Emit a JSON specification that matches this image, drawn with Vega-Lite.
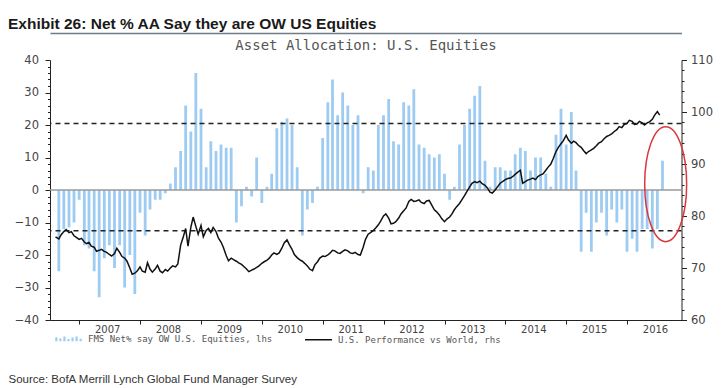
{
  "$schema": "https://vega.github.io/schema/vega-lite/v6.json",
  "width": 631.5,
  "height": 260,
  "autosize": {"type": "none"},
  "padding": {"left": 50, "top": 60, "right": 44.5, "bottom": 68},
  "background": "white",
  "config": {"view": {"stroke": null}, "font": "DejaVu Sans"},
  "title": {
    "text": "Exhibit 26: Net % AA Say they are OW US Equities",
    "anchor": "start", "frame": "group", "orient": "top",
    "dx": -42, "dy": 15, "offset": 4, "baseline": "alphabetic",
    "font": "Liberation Sans, Arial, sans-serif",
    "fontSize": 15.5, "fontWeight": "bold", "color": "#1a1a1a"
  },
  "datasets": {
    "survey": [
      {"date":"2006-09-01","pct":-25},{"date":"2006-10-01","pct":-12},{"date":"2006-11-01","pct":-11.5},{"date":"2006-12-01","pct":-10},
      {"date":"2007-01-01","pct":-3},{"date":"2007-02-01","pct":-17},{"date":"2007-03-01","pct":-18},{"date":"2007-04-01","pct":-25},
      {"date":"2007-05-01","pct":-33},{"date":"2007-06-01","pct":-21},{"date":"2007-07-01","pct":-17},{"date":"2007-08-01","pct":-24},
      {"date":"2007-09-01","pct":-17},{"date":"2007-10-01","pct":-30},{"date":"2007-11-01","pct":-20},{"date":"2007-12-01","pct":-32},
      {"date":"2008-01-01","pct":-7},{"date":"2008-02-01","pct":-14},{"date":"2008-03-01","pct":-6},{"date":"2008-04-01","pct":-3},
      {"date":"2008-05-01","pct":-3},{"date":"2008-06-01","pct":-1},{"date":"2008-07-01","pct":2},{"date":"2008-08-01","pct":7},
      {"date":"2008-09-01","pct":12},{"date":"2008-10-01","pct":26},{"date":"2008-11-01","pct":18},{"date":"2008-12-01","pct":36},
      {"date":"2009-01-01","pct":25},{"date":"2009-02-01","pct":7},{"date":"2009-03-01","pct":15},{"date":"2009-04-01","pct":12},
      {"date":"2009-05-01","pct":14},{"date":"2009-06-01","pct":13},{"date":"2009-07-01","pct":13},{"date":"2009-08-01","pct":-10},
      {"date":"2009-09-01","pct":-5},{"date":"2009-10-01","pct":1},{"date":"2009-11-01","pct":-2},{"date":"2009-12-01","pct":10},
      {"date":"2010-01-01","pct":-4},{"date":"2010-02-01","pct":1},{"date":"2010-03-01","pct":5},{"date":"2010-04-01","pct":19},
      {"date":"2010-05-01","pct":21},{"date":"2010-06-01","pct":22},{"date":"2010-07-01","pct":20},{"date":"2010-08-01","pct":7},
      {"date":"2010-09-01","pct":-14},{"date":"2010-10-01","pct":-6},{"date":"2010-11-01","pct":-4},{"date":"2010-12-01","pct":1},
      {"date":"2011-01-01","pct":16},{"date":"2011-02-01","pct":27},{"date":"2011-03-01","pct":34},{"date":"2011-04-01","pct":23},
      {"date":"2011-05-01","pct":30},{"date":"2011-06-01","pct":26},{"date":"2011-07-01","pct":20},{"date":"2011-08-01","pct":23},
      {"date":"2011-09-01","pct":-1},{"date":"2011-10-01","pct":7},{"date":"2011-11-01","pct":6},{"date":"2011-12-01","pct":20},
      {"date":"2012-01-01","pct":23},{"date":"2012-02-01","pct":28},{"date":"2012-03-01","pct":15},{"date":"2012-04-01","pct":14},
      {"date":"2012-05-01","pct":27},{"date":"2012-06-01","pct":26},{"date":"2012-07-01","pct":31},{"date":"2012-08-01","pct":14},
      {"date":"2012-09-01","pct":13},{"date":"2012-10-01","pct":11},{"date":"2012-11-01","pct":10},{"date":"2012-12-01","pct":11},
      {"date":"2013-01-01","pct":5},{"date":"2013-02-01","pct":-3},{"date":"2013-03-01","pct":1},{"date":"2013-04-01","pct":14},
      {"date":"2013-05-01","pct":20},{"date":"2013-06-01","pct":25},{"date":"2013-07-01","pct":29},{"date":"2013-08-01","pct":32},
      {"date":"2013-09-01","pct":9},{"date":"2013-10-01","pct":1},{"date":"2013-11-01","pct":7},{"date":"2013-12-01","pct":7},
      {"date":"2014-01-01","pct":6},{"date":"2014-02-01","pct":6},{"date":"2014-03-01","pct":11},{"date":"2014-04-01","pct":13},
      {"date":"2014-05-01","pct":12},{"date":"2014-06-01","pct":6},{"date":"2014-07-01","pct":10},{"date":"2014-08-01","pct":10},
      {"date":"2014-09-01","pct":5},{"date":"2014-10-01","pct":1},{"date":"2014-11-01","pct":17},{"date":"2014-12-01","pct":25},
      {"date":"2015-01-01","pct":14},{"date":"2015-02-01","pct":24},{"date":"2015-03-01","pct":6},{"date":"2015-04-01","pct":-19},
      {"date":"2015-05-01","pct":-7},{"date":"2015-06-01","pct":-19},{"date":"2015-07-01","pct":-10},{"date":"2015-08-01","pct":-7},
      {"date":"2015-09-01","pct":-14},{"date":"2015-10-01","pct":-6},{"date":"2015-11-01","pct":-10},{"date":"2015-12-01","pct":-6},
      {"date":"2016-01-01","pct":-19},{"date":"2016-02-01","pct":-15},{"date":"2016-03-01","pct":-19},{"date":"2016-04-01","pct":-12},
      {"date":"2016-05-01","pct":-12},{"date":"2016-06-01","pct":-18},{"date":"2016-07-01","pct":-12},{"date":"2016-08-01","pct":9}
    ],
    "perf": [
      {"date":"2006-08-12","perf":76.0},
      {"date":"2006-09-01","perf":75.6},{"date":"2006-09-15","perf":76.4},
      {"date":"2006-10-01","perf":77.0},{"date":"2006-10-15","perf":77.4},
      {"date":"2006-11-01","perf":76.8},{"date":"2006-11-15","perf":77.0},
      {"date":"2006-12-01","perf":76.2},{"date":"2006-12-15","perf":75.9},
      {"date":"2007-01-01","perf":75.5},{"date":"2007-01-15","perf":75.7},
      {"date":"2007-02-01","perf":75.0},{"date":"2007-02-15","perf":74.7},
      {"date":"2007-03-01","perf":74.9},{"date":"2007-03-15","perf":74.2},
      {"date":"2007-04-01","perf":74.0},{"date":"2007-04-15","perf":73.2},
      {"date":"2007-05-01","perf":73.4},{"date":"2007-05-15","perf":73.6},
      {"date":"2007-06-01","perf":73.2},{"date":"2007-06-15","perf":73.0},
      {"date":"2007-07-01","perf":72.6},{"date":"2007-07-15","perf":72.3},
      {"date":"2007-08-01","perf":72.8},{"date":"2007-08-15","perf":73.8},
      {"date":"2007-09-01","perf":73.0},{"date":"2007-09-15","perf":72.2},
      {"date":"2007-10-01","perf":71.9},{"date":"2007-10-15","perf":71.3},
      {"date":"2007-11-01","perf":70.0},{"date":"2007-11-15","perf":68.8},
      {"date":"2007-12-01","perf":69.0},{"date":"2007-12-15","perf":69.4},
      {"date":"2008-01-01","perf":70.2},{"date":"2008-01-15","perf":69.4},
      {"date":"2008-02-01","perf":69.2},{"date":"2008-02-15","perf":71.0},
      {"date":"2008-03-01","perf":69.8},{"date":"2008-03-15","perf":69.2},
      {"date":"2008-04-01","perf":69.8},{"date":"2008-04-15","perf":70.5},
      {"date":"2008-05-01","perf":69.4},{"date":"2008-05-15","perf":69.1},
      {"date":"2008-06-01","perf":69.7},{"date":"2008-06-15","perf":69.4},
      {"date":"2008-07-01","perf":70.0},{"date":"2008-07-15","perf":70.4},
      {"date":"2008-08-01","perf":70.2},{"date":"2008-08-15","perf":70.8},
      {"date":"2008-09-01","perf":74.4},{"date":"2008-09-15","perf":75.8},
      {"date":"2008-10-01","perf":77.6},{"date":"2008-10-15","perf":74.2},
      {"date":"2008-11-01","perf":77.8},{"date":"2008-11-15","perf":79.8},
      {"date":"2008-12-01","perf":78.0},{"date":"2008-12-15","perf":76.5},
      {"date":"2009-01-01","perf":78.2},{"date":"2009-01-15","perf":76.0},
      {"date":"2009-02-01","perf":77.2},{"date":"2009-02-15","perf":77.6},
      {"date":"2009-03-01","perf":76.8},{"date":"2009-03-15","perf":77.8},
      {"date":"2009-04-01","perf":77.0},{"date":"2009-04-15","perf":75.8},
      {"date":"2009-05-01","perf":75.0},{"date":"2009-05-15","perf":74.0},
      {"date":"2009-06-01","perf":72.4},{"date":"2009-06-15","perf":71.4},
      {"date":"2009-07-01","perf":71.9},{"date":"2009-07-15","perf":71.6},
      {"date":"2009-08-01","perf":71.3},{"date":"2009-08-15","perf":71.0},
      {"date":"2009-09-01","perf":70.7},{"date":"2009-09-15","perf":70.3},
      {"date":"2009-10-01","perf":69.8},{"date":"2009-10-15","perf":69.3},
      {"date":"2009-11-01","perf":69.6},{"date":"2009-11-15","perf":69.8},
      {"date":"2009-12-01","perf":70.1},{"date":"2009-12-15","perf":70.4},
      {"date":"2010-01-01","perf":70.9},{"date":"2010-01-15","perf":71.2},
      {"date":"2010-02-01","perf":71.5},{"date":"2010-02-15","perf":71.9},
      {"date":"2010-03-01","perf":72.5},{"date":"2010-03-15","perf":72.9},
      {"date":"2010-04-01","perf":72.6},{"date":"2010-04-15","perf":72.9},
      {"date":"2010-05-01","perf":73.8},{"date":"2010-05-15","perf":74.8},
      {"date":"2010-06-01","perf":75.4},{"date":"2010-06-15","perf":74.5},
      {"date":"2010-07-01","perf":73.6},{"date":"2010-07-15","perf":72.6},
      {"date":"2010-08-01","perf":72.0},{"date":"2010-08-15","perf":71.6},
      {"date":"2010-09-01","perf":71.3},{"date":"2010-09-15","perf":70.9},
      {"date":"2010-10-01","perf":70.4},{"date":"2010-10-15","perf":69.8},
      {"date":"2010-11-01","perf":69.5},{"date":"2010-11-15","perf":70.6},
      {"date":"2010-12-01","perf":71.2},{"date":"2010-12-15","perf":71.9},
      {"date":"2011-01-01","perf":72.3},{"date":"2011-01-15","perf":72.2},
      {"date":"2011-02-01","perf":72.5},{"date":"2011-02-15","perf":72.9},
      {"date":"2011-03-01","perf":73.4},{"date":"2011-03-15","perf":73.3},
      {"date":"2011-04-01","perf":72.9},{"date":"2011-04-15","perf":72.8},
      {"date":"2011-05-01","perf":73.2},{"date":"2011-05-15","perf":73.5},
      {"date":"2011-06-01","perf":73.3},{"date":"2011-06-15","perf":72.9},
      {"date":"2011-07-01","perf":72.8},{"date":"2011-07-15","perf":73.0},
      {"date":"2011-08-01","perf":72.6},{"date":"2011-08-15","perf":72.5},
      {"date":"2011-09-01","perf":74.0},{"date":"2011-09-15","perf":75.5},
      {"date":"2011-10-01","perf":76.5},{"date":"2011-10-15","perf":76.8},
      {"date":"2011-11-01","perf":77.2},{"date":"2011-11-15","perf":77.7},
      {"date":"2011-12-01","perf":78.3},{"date":"2011-12-15","perf":79.0},
      {"date":"2012-01-01","perf":80.0},{"date":"2012-01-15","perf":80.4},
      {"date":"2012-02-01","perf":79.6},{"date":"2012-02-15","perf":78.5},
      {"date":"2012-03-01","perf":78.6},{"date":"2012-03-15","perf":78.9},
      {"date":"2012-04-01","perf":79.6},{"date":"2012-04-15","perf":80.4},
      {"date":"2012-05-01","perf":81.0},{"date":"2012-05-15","perf":81.5},
      {"date":"2012-06-01","perf":82.8},{"date":"2012-06-15","perf":83.2},
      {"date":"2012-07-01","perf":82.8},{"date":"2012-07-15","perf":82.9},
      {"date":"2012-08-01","perf":83.1},{"date":"2012-08-15","perf":82.6},
      {"date":"2012-09-01","perf":82.4},{"date":"2012-09-15","perf":82.9},
      {"date":"2012-10-01","perf":83.0},{"date":"2012-10-15","perf":82.2},
      {"date":"2012-11-01","perf":81.2},{"date":"2012-11-15","perf":80.8},
      {"date":"2012-12-01","perf":80.2},{"date":"2012-12-15","perf":79.5},
      {"date":"2013-01-01","perf":78.9},{"date":"2013-01-15","perf":79.4},
      {"date":"2013-02-01","perf":79.8},{"date":"2013-02-15","perf":80.4},
      {"date":"2013-03-01","perf":81.2},{"date":"2013-03-15","perf":81.8},
      {"date":"2013-04-01","perf":82.4},{"date":"2013-04-15","perf":83.1},
      {"date":"2013-05-01","perf":83.9},{"date":"2013-05-15","perf":84.7},
      {"date":"2013-06-01","perf":85.6},{"date":"2013-06-15","perf":86.3},
      {"date":"2013-07-01","perf":86.6},{"date":"2013-07-15","perf":86.4},
      {"date":"2013-08-01","perf":86.7},{"date":"2013-08-15","perf":86.2},
      {"date":"2013-09-01","perf":85.9},{"date":"2013-09-15","perf":85.4},
      {"date":"2013-10-01","perf":84.6},{"date":"2013-10-15","perf":84.4},
      {"date":"2013-11-01","perf":85.0},{"date":"2013-11-15","perf":85.6},
      {"date":"2013-12-01","perf":86.3},{"date":"2013-12-15","perf":86.6},
      {"date":"2014-01-01","perf":87.0},{"date":"2014-01-15","perf":87.2},
      {"date":"2014-02-01","perf":87.3},{"date":"2014-02-15","perf":87.6},
      {"date":"2014-03-01","perf":88.0},{"date":"2014-03-15","perf":88.4},
      {"date":"2014-04-01","perf":88.8},{"date":"2014-04-15","perf":86.3},
      {"date":"2014-05-01","perf":86.6},{"date":"2014-05-15","perf":86.9},
      {"date":"2014-06-01","perf":87.1},{"date":"2014-06-15","perf":87.3},
      {"date":"2014-07-01","perf":87.0},{"date":"2014-07-15","perf":87.6},
      {"date":"2014-08-01","perf":87.9},{"date":"2014-08-15","perf":88.1},
      {"date":"2014-09-01","perf":88.8},{"date":"2014-09-15","perf":89.4},
      {"date":"2014-10-01","perf":90.0},{"date":"2014-10-15","perf":91.0},
      {"date":"2014-11-01","perf":92.4},{"date":"2014-11-15","perf":93.2},
      {"date":"2014-12-01","perf":93.9},{"date":"2014-12-15","perf":94.5},
      {"date":"2015-01-01","perf":95.5},{"date":"2015-01-15","perf":94.6},
      {"date":"2015-02-01","perf":94.0},{"date":"2015-02-15","perf":94.4},
      {"date":"2015-03-01","perf":94.1},{"date":"2015-03-15","perf":93.6},
      {"date":"2015-04-01","perf":93.2},{"date":"2015-04-15","perf":92.6},
      {"date":"2015-05-01","perf":92.0},{"date":"2015-05-15","perf":92.4},
      {"date":"2015-06-01","perf":92.7},{"date":"2015-06-15","perf":93.0},
      {"date":"2015-07-01","perf":93.5},{"date":"2015-07-15","perf":94.0},
      {"date":"2015-08-01","perf":94.3},{"date":"2015-08-15","perf":94.8},
      {"date":"2015-09-01","perf":95.3},{"date":"2015-09-15","perf":95.5},
      {"date":"2015-10-01","perf":95.8},{"date":"2015-10-15","perf":96.2},
      {"date":"2015-11-01","perf":96.6},{"date":"2015-11-15","perf":97.2},
      {"date":"2015-12-01","perf":97.0},{"date":"2015-12-15","perf":97.6},
      {"date":"2016-01-01","perf":97.8},{"date":"2016-01-15","perf":98.4},
      {"date":"2016-02-01","perf":98.2},{"date":"2016-02-15","perf":97.6},
      {"date":"2016-03-01","perf":97.7},{"date":"2016-03-15","perf":98.2},
      {"date":"2016-04-01","perf":97.9},{"date":"2016-04-15","perf":97.5},
      {"date":"2016-05-01","perf":97.9},{"date":"2016-05-15","perf":98.1},
      {"date":"2016-06-01","perf":98.6},{"date":"2016-06-15","perf":99.4},
      {"date":"2016-07-01","perf":100.1},{"date":"2016-07-15","perf":99.4}
    ],
    "levels": [{"level": 20.5}, {"level": -12.5}],
    "zero": [{"level": 0}],
    "highlight": [{"date": "2016-08-20", "pct": 1.8}]
  },
  "layer": [
    {
      "data": {"name": "survey"},
      "mark": {"type": "bar", "size": 2.8},
      "encoding": {
        "x": {
          "field": "date", "type": "temporal",
          "scale": {"domain": [{"year": 2006, "month": 8, "date": 9}, {"year": 2016, "month": 10, "date": 24}], "nice": false},
          "axis": {
            "orient": "bottom",
            "values": [{"year":2007,"month":1,"date":1},{"year":2008,"month":1,"date":1},{"year":2009,"month":1,"date":1},{"year":2010,"month":1,"date":1},{"year":2011,"month":1,"date":1},{"year":2012,"month":1,"date":1},{"year":2013,"month":1,"date":1},{"year":2014,"month":1,"date":1},{"year":2015,"month":1,"date":1},{"year":2016,"month":1,"date":1}],
            "format": "%Y", "labelOffset": 28, "tickSize": 4, "tickColor": "#222", "domainColor": "#222",
            "labelFont": "DejaVu Sans", "labelFontSize": 10, "labelColor": "#444", "labelPadding": 0,
            "labelFlush": false, "labelOverlap": false, "labelBound": false, "grid": false,
            "title": "Source: BofA Merrill Lynch Global Fund Manager Survey",
            "titleX": -42, "titleY": 62, "titleAlign": "left", "titleAnchor": "start", "titleBaseline": "alphabetic",
            "titleFont": "Liberation Sans", "titleFontSize": 11.5, "titleFontWeight": "normal", "titleColor": "#333"
          }
        },
        "y": {
          "field": "pct", "type": "quantitative",
          "scale": {"domain": [-40, 40], "nice": false},
          "axis": {
            "orient": "left",
            "values": [-40,-38,-36,-34,-32,-30,-28,-26,-24,-22,-20,-18,-16,-14,-12,-10,-8,-6,-4,-2,0,2,4,6,8,10,12,14,16,18,20,22,24,26,28,30,32,34,36,38,40],
            "labelExpr": "datum.value % 10 === 0 ? datum.label : ''",
            "tickSize": {"condition": {"test": "datum.value % 10 === 0", "value": 5}, "value": 2.5},
            "tickColor": "#222", "domainColor": "#222",
            "labelFont": "DejaVu Sans", "labelFontSize": 11.5, "labelColor": "#444", "labelPadding": 6.5,
            "labelOverlap": false, "labelBound": false, "grid": false, "title": null
          }
        },
        "y2": {"datum": 0},
        "color": {
          "datum": "FMS Net% say OW U.S. Equities, lhs", "type": "nominal",
          "scale": {"domain": ["FMS Net% say OW U.S. Equities, lhs", "U.S. Performance vs World, rhs"], "range": ["#9ecbf2", "#111111"]},
          "legend": {
            "title": null, "orient": "none", "legendX": 14, "legendY": 274, "direction": "horizontal",
            "padding": 0, "labelFont": "DejaVu Sans Mono", "labelFontSize": 9, "labelColor": "#555", "labelLimit": 400,
            "labelOffset": 15, "columnPadding": 29, "symbolSize": 729, "symbolType": "stroke",
            "encode": {
              "symbols": {
                "update": {
                  "shape": {"signal": "datum.value === 'FMS Net% say OW U.S. Equities, lhs' ? 'M-0.9,0.18V-0.12M-0.6,0.18V-0.02M-0.3,0.18V-0.18M0,0.18V0.02M0.3,0.18V-0.1M0.6,0.18V-0.18M0.9,0.18V0' : 'M-1,0H1'"},
                  "stroke": {"scale": "color", "field": "value"},
                  "fill": {"value": "transparent"},
                  "strokeWidth": {"signal": "datum.value === 'FMS Net% say OW U.S. Equities, lhs' ? 2.2 : 1.5"},
                  "opacity": {"value": 1}
                }
              }
            }
          }
        }
      }
    },
    {
      "data": {"name": "zero"},
      "mark": {"type": "rule", "color": "#9a9a9a", "strokeWidth": 1.5},
      "encoding": {"y": {"field": "level", "type": "quantitative", "scale": {"domain": [-40, 40], "nice": false}, "axis": null}}
    },
    {
      "data": {"name": "levels"},
      "mark": {"type": "rule", "color": "#222", "strokeWidth": 1.5, "strokeDash": [5, 4]},
      "encoding": {"y": {"field": "level", "type": "quantitative", "scale": {"domain": [-40, 40], "nice": false}, "axis": null}}
    },
    {
      "data": {"name": "highlight"},
      "mark": {
        "type": "point",
        "shape": "M0,-1C0.2016,-1 0.365,-0.5523 0.365,0C0.365,0.5523 0.2016,1 0,1C-0.2016,1 -0.365,0.5523 -0.365,0C-0.365,-0.5523 -0.2016,-1 0,-1Z",
        "size": 13225, "filled": false, "stroke": "#d9363e", "strokeWidth": 1.5, "opacity": 1
      },
      "encoding": {
        "x": {"field": "date", "type": "temporal", "axis": null},
        "y": {"field": "pct", "type": "quantitative", "scale": {"domain": [-40, 40], "nice": false}, "axis": null}
      }
    },
    {
      "data": {"name": "perf"},
      "mark": {"type": "line", "strokeWidth": 1.5, "interpolate": "linear"},
      "encoding": {
        "x": {
          "field": "date", "type": "temporal",
          "scale": {"domain": [{"year": 2006, "month": 8, "date": 9}, {"year": 2016, "month": 10, "date": 24}], "nice": false},
          "axis": {
            "orient": "top", "offset": 27, "domain": true, "domainColor": "#6f7c89", "domainWidth": 1.5,
            "ticks": false, "labels": false, "grid": false,
            "title": "Asset Allocation: U.S. Equities",
            "titleX": 315.5, "titleY": 16, "titleAlign": "center", "titleBaseline": "alphabetic",
            "titleFont": "DejaVu Sans Mono", "titleFontSize": 14, "titleFontWeight": "normal", "titleColor": "#555"
          }
        },
        "y": {
          "field": "perf", "type": "quantitative",
          "scale": {"domain": [60, 110], "nice": false, "zero": false},
          "axis": {
            "orient": "right",
            "values": [60,62,64,66,68,70,72,74,76,78,80,82,84,86,88,90,92,94,96,98,100,102,104,106,108,110],
            "labelExpr": "datum.value % 10 === 0 ? datum.label : ''",
            "tickSize": {"condition": {"test": "datum.value % 10 === 0", "value": 5}, "value": 2.5},
            "tickColor": "#222", "domainColor": "#222",
            "labelFont": "DejaVu Sans", "labelFontSize": 11.5, "labelColor": "#444", "labelPadding": 4,
            "labelOverlap": false, "labelBound": false, "grid": false, "title": null
          }
        },
        "color": {"datum": "U.S. Performance vs World, rhs", "type": "nominal"}
      }
    }
  ],
  "resolve": {"scale": {"y": "independent"}, "axis": {"x": "independent", "y": "independent"}}
}
